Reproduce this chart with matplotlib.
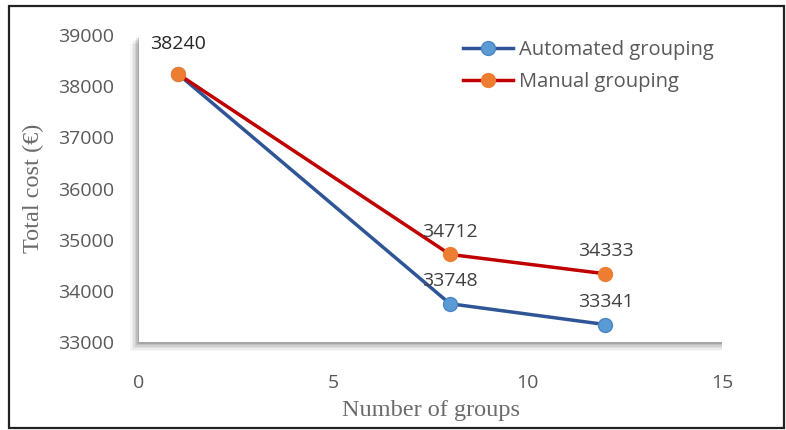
import matplotlib.pyplot as plt
from matplotlib.patches import Rectangle

groups = [1, 8, 12]
automated = [38240, 33748, 33341]
manual = [38240, 34712, 34333]
auto_labels = ["", "33748", "33341"]
manual_labels = ["38240", "34712", "34333"]

fig = plt.figure(figsize=(7.86, 4.30), dpi=100)
W, H = 786, 430

# panel position in pixels
left, right, top, bottom = 139, 722, 35, 342
ax = fig.add_axes([left / W, 1 - bottom / H, (right - left) / W, (bottom - top) / H])

# drop shadow behind the panel
for i, a in enumerate([0.03, 0.04, 0.05, 0.07, 0.09, 0.12]):
    off = 9 - 1.5 * i
    fig.patches.append(Rectangle(((left - off) / W, 1 - (bottom + off) / H),
                                 (right - left + off) / W, (bottom - top) / H,
                                 transform=fig.transFigure, color='black', alpha=a,
                                 lw=0, zorder=0))

# outer frame
fig.patches.append(Rectangle((9 / W, 2 / H), 775 / W, 422 / H, transform=fig.transFigure,
                             fill=False, edgecolor='#222222', lw=1.6, zorder=5))

ax.set_zorder(2)
ax.set_facecolor('white')

ax.plot(groups, automated, color='#2F5597', lw=2.5, marker='o', markersize=10,
        markerfacecolor='#5B9BD5', markeredgecolor='#4A86C5', label='Automated grouping')
ax.plot(groups, manual, color='#C00000', lw=2.5, marker='o', markersize=10,
        markerfacecolor='#ED7D31', markeredgecolor='#ED7D31', label='Manual grouping')

for x, y, t in zip(groups, manual, manual_labels):
    if t == "38240":
        ax.annotate(t, (x, y), xytext=(0, 15), textcoords='offset points', ha='center',
                    va='bottom', fontsize=14, color='#262626', family='Open Sans')
    else:
        ax.annotate(t, (x, y), xytext=(0, 10), textcoords='offset points', ha='center',
                    va='bottom', fontsize=14, color='#404040', family='Open Sans')
for x, y, t in zip(groups, automated, auto_labels):
    if t:
        ax.annotate(t, (x, y), xytext=(0, 10), textcoords='offset points', ha='center',
                    va='bottom', fontsize=14, color='#404040', family='Open Sans')

ax.set_xlim(0, 15)
ax.set_ylim(33000, 39000)
ax.set_xticks([0, 5, 10, 15])
ax.set_yticks(range(33000, 39001, 1000))
for s in ax.spines.values():
    s.set_visible(False)
ax.tick_params(length=0, labelsize=14, labelcolor='#595959')
ax.tick_params(axis='x', pad=23)
ax.tick_params(axis='y', pad=18)
for lab in ax.get_xticklabels() + ax.get_yticklabels():
    lab.set_family('Open Sans')

ax.set_xlabel('Number of groups', family='Liberation Serif', fontsize=17.5, color='#6b6b6b',
              labelpad=6)
ax.set_ylabel('Total cost (€)', family='Liberation Serif', fontsize=17.5, color='#6b6b6b',
              labelpad=10)

leg = ax.legend(loc='upper right', frameon=False, handlelength=2.5,
                borderaxespad=0.0, labelspacing=0.6, handletextpad=0.3,
                bbox_to_anchor=(1.0, 1.01),
                prop={'family': 'Open Sans', 'size': 14.5})
for t in leg.get_texts():
    t.set_color('#595959')

fig.savefig('out.png', dpi=100)
